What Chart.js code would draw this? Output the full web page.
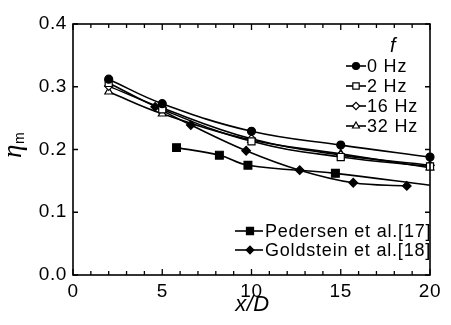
<!DOCTYPE html>
<html>
<head>
<meta charset="utf-8">
<script src="https://cdn.jsdelivr.net/npm/chart.js@4/dist/chart.umd.min.js"></script>
<style>
    html, body { margin: 0; padding: 0; background: #fff; }
    canvas { display: block; }
</style>
</head>
<body>
<canvas id="etaChart" width="451" height="325"></canvas>
<script>
// Measured stations x/D and centreline effectiveness for each pulsing frequency
const xStations = [2, 5, 10, 15, 20];
const eta0Hz = [0.312, 0.273, 0.229, 0.207, 0.188];
const eta2Hz = [0.306, 0.264, 0.213, 0.188, 0.173];
const eta16Hz = [0.301, 0.266, 0.217, 0.191, 0.175];
const eta32Hz = [0.292, 0.257, 0.215, 0.193, 0.171];

// Reference data from literature (Pedersen curve runs past its last marker)
const pedersenX = [5.8, 8.2, 9.8, 14.7, 20];
const pedersenEta = [0.203, 0.191, 0.175, 0.162, 0.143];
const pedersenMarker = [true, true, true, true, false];
const goldsteinX = [4.6, 6.6, 9.7, 12.7, 15.7, 18.7];
const goldsteinEta = [0.268, 0.239, 0.198, 0.167, 0.147, 0.142];

const xTickLabels = [0, 5, 10, 15, 20];
const yTickLabels = [0.0, 0.1, 0.2, 0.3, 0.4];

const FONT = '"Liberation Sans", Arial, Helvetica, sans-serif';

function toPoints(xs, ys) {
    return xs.map((x, i) => ({ x: x, y: ys[i] }));
}

function series(label, xs, ys, style, filled, radius) {
    return {
        label: label,
        data: toPoints(xs, ys),
        borderColor: '#000',
        borderWidth: 1.6,
        backgroundColor: filled ? '#000' : '#fff',
        pointStyle: style,
        pointRadius: radius,
        pointBorderWidth: 1.2,
        pointBorderColor: '#000',
        pointBackgroundColor: filled ? '#000' : '#fff',
        tension: 0.4,
        fill: false,
        clip: false
    };
}

const datasets = [
    series('0 Hz', xStations, eta0Hz, 'circle', true, 4),
    series('2 Hz', xStations, eta2Hz, 'rect', false, 5),
    series('16 Hz', xStations, eta16Hz, 'rectRot', false, 4.2),
    series('32 Hz', xStations, eta32Hz, 'triangle', false, 4.5),
    series('Pedersen et al.[17]', pedersenX, pedersenEta, 'rect', true, 5.5),
    series('Goldstein et al.[18]', goldsteinX, goldsteinEta, 'rectRot', true, 4.3)
];
datasets[4].pointRadius = pedersenMarker.map(m => m ? 5.5 : 0);

// Draws frame, inward ticks, axis titles and the two legend blocks
const decorations = {
    id: 'decorations',
    beforeDraw(chart) {
        chart.ctx.letterSpacing = '0.6px';
    },
    afterDraw(chart) {
        const ctx = chart.ctx;
        const area = chart.chartArea;
        const xs = chart.scales.x;
        const ys = chart.scales.y;
        ctx.save();
        ctx.letterSpacing = '0px';
        ctx.strokeStyle = '#000';
        ctx.lineWidth = 1.6;
        ctx.strokeRect(area.left, area.top, area.right - area.left, area.bottom - area.top);

        ctx.lineWidth = 1.3;
        ctx.beginPath();
        for (let v = 0; v <= 20; v++) {
            const px = xs.getPixelForValue(v);
            const len = v % 5 === 0 ? 6 : 4;
            ctx.moveTo(px, area.bottom);
            ctx.lineTo(px, area.bottom - len);
            ctx.moveTo(px, area.top);
            ctx.lineTo(px, area.top + len);
        }
        yTickLabels.forEach(v => {
            const py = ys.getPixelForValue(v);
            ctx.moveTo(area.left, py);
            ctx.lineTo(area.left + 5, py);
            ctx.moveTo(area.right, py);
            ctx.lineTo(area.right - 5, py);
        });
        ctx.stroke();

        ctx.fillStyle = '#000';
        // x title
        ctx.font = 'italic 22px ' + FONT;
        ctx.textAlign = 'center';
        ctx.textBaseline = 'middle';
        ctx.letterSpacing = '0.5px';
        ctx.fillText('x/D', (area.left + area.right) / 2 + 1, 305);

        // y title: eta with subscript m, rotated
        ctx.save();
        ctx.translate(21, 158);
        ctx.rotate(-Math.PI / 2);
        ctx.letterSpacing = '0px';
        ctx.textAlign = 'left';
        ctx.textBaseline = 'alphabetic';
        ctx.font = 'italic 27px "Liberation Serif", "DejaVu Serif", serif';
        ctx.fillText('\u03b7', 0, 0);
        const w = ctx.measureText('\u03b7').width;
        ctx.font = '14px ' + FONT;
        ctx.fillText('m', w + 0.5, 3);
        ctx.restore();

        // frequency legend
        ctx.font = 'italic 20px ' + FONT;
        ctx.textAlign = 'center';
        ctx.fillText('f', 393, 46);
        const drawEntry = (ds, y, x0, x1, xm, tx) => {
            ctx.strokeStyle = '#000';
            ctx.lineWidth = 1.6;
            ctx.beginPath();
            ctx.moveTo(x0, y);
            ctx.lineTo(x1, y);
            ctx.stroke();
            ctx.fillStyle = ds.pointBackgroundColor;
            ctx.lineWidth = 1.2;
            const r = Array.isArray(ds.pointRadius) ? ds.pointRadius[0] : ds.pointRadius;
            Chart.helpers.drawPoint(ctx, { pointStyle: ds.pointStyle, radius: r - 0.5, rotation: 0, borderWidth: 1.2 }, xm, y);
            ctx.fillStyle = '#000';
            ctx.font = '18px ' + FONT;
            ctx.letterSpacing = '0.8px';
            ctx.textAlign = 'left';
            ctx.textBaseline = 'middle';
            ctx.fillText(ds.label, tx, y + 1);
            ctx.letterSpacing = '0px';
        };
        const rows = [66, 86, 106, 126];
        for (let i = 0; i < 4; i++) {
            drawEntry(chart.data.datasets[i], rows[i], 346, 366, 356, 367);
        }
        drawEntry(chart.data.datasets[4], 231, 235, 263, 250, 265);
        drawEntry(chart.data.datasets[5], 250, 235, 263, 250, 265);
        ctx.restore();
    }
};

new Chart(document.getElementById('etaChart'), {
    type: 'line',
    data: { datasets: datasets },
    options: {
        responsive: false,
        animation: false,
        events: [],
        layout: { padding: { top: 24, right: 21, left: 0, bottom: 0 } },
        plugins: {
            legend: { display: false },
            tooltip: { enabled: false }
        },
        scales: {
            x: {
                type: 'linear',
                min: 0,
                max: 20,
                afterFit: s => { s.height = 50; },
                afterBuildTicks: s => { s.ticks = xTickLabels.map(v => ({ value: v })); },
                grid: { display: false, drawTicks: false },
                border: { display: false },
                ticks: {
                    color: '#000',
                    padding: 5,
                    maxRotation: 0,
                    font: { family: FONT, size: 19 }
                }
            },
            y: {
                min: 0,
                max: 0.4,
                afterFit: s => { s.width = 73; },
                afterBuildTicks: s => { s.ticks = yTickLabels.map(v => ({ value: v })); },
                grid: { display: false, drawTicks: false },
                border: { display: false },
                ticks: {
                    color: '#000',
                    padding: 6,
                    font: { family: FONT, size: 19 },
                    callback: v => Number(v).toFixed(1)
                }
            }
        }
    },
    plugins: [decorations]
});
</script>
</body>
</html>
